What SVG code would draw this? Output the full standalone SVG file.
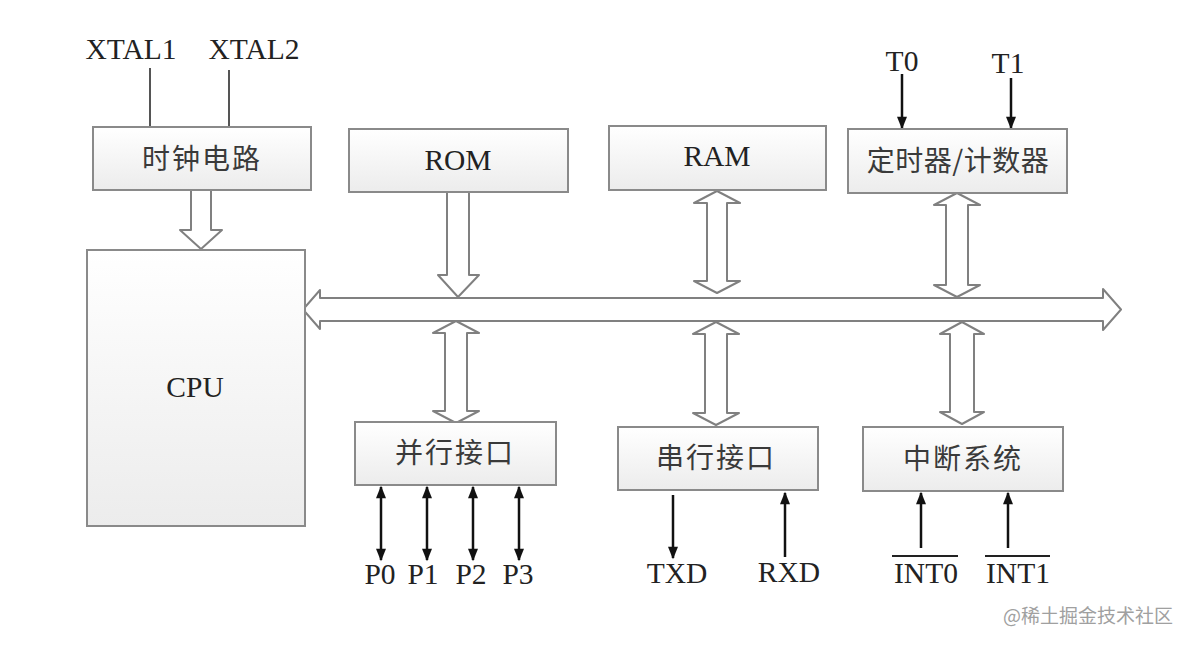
<svg xmlns="http://www.w3.org/2000/svg" width="1194" height="646" viewBox="0 0 1194 646">
<defs>
<linearGradient id="g" x1="0" y1="0" x2="0" y2="1">
<stop offset="0" stop-color="#ffffff"/>
<stop offset="1" stop-color="#ececec"/>
</linearGradient>
<marker id="ah" viewBox="0 0 10 10" refX="9" refY="5" markerWidth="5.5" markerHeight="5" orient="auto-start-reverse" markerUnits="strokeWidth">
<path d="M0,1 L10,5 L0,9 Z" fill="#111"/>
</marker>
<style>
.box{fill:url(#g);stroke:#8a8a8a;stroke-width:2}
.cn{font-family:"Noto Sans CJK SC",sans-serif;font-size:28px;fill:#3a3a3a;text-anchor:middle;letter-spacing:2px}
.en{font-family:"Liberation Serif",serif;font-size:29.5px;fill:#222;text-anchor:middle}
.blk{fill:#fff;stroke:#808080;stroke-width:2;stroke-linejoin:round}
.thin{stroke:#555;stroke-width:2;fill:none}
.sig{stroke:#111;stroke-width:2.5;fill:none}
</style>
</defs>
<rect width="1194" height="646" fill="#fff"/>

<g id="connectors">
<line class="thin" x1="150" y1="68" x2="150" y2="127"/>
<line class="thin" x1="229" y1="70" x2="229" y2="127"/>
<path class="blk" d="M191,190 L211,190 L211,230 L222,230 L201,249 L180,230 L191,230 Z"/>
<path class="blk" d="M447,192 L469,192 L469,275 L479,275 L458,297 L438,275 L447,275 Z"/>
<path class="blk" d="M303,309.5 L320,290 L320,298 L1103,298 L1103,289 L1121,309.5 L1103,330 L1103,321 L320,321 L320,329 Z"/>
<path class="blk" d="M717,191 L740,203 L727,203 L727,281 L740,281 L717,293 L694,281 L707,281 L707,203 L694,203 Z"/>
<path class="blk" d="M957,193 L980,205 L968,205 L968,285 L980,285 L957,297 L934,285 L946,285 L946,205 L934,205 Z"/>
<path class="blk" d="M456,321 L479,333 L467,333 L467,411 L479,411 L456,423 L433,411 L445,411 L445,333 L433,333 Z"/>
<path class="blk" d="M716,322 L739,334 L727,334 L727,413 L739,413 L716,425 L693,413 L705,413 L705,334 L693,334 Z"/>
<path class="blk" d="M962,322 L984,334 L974,334 L974,412 L984,412 L962,424 L940,412 L950,412 L950,334 L940,334 Z"/>
<line class="sig" x1="902" y1="74" x2="902" y2="128" marker-end="url(#ah)"/>
<line class="sig" x1="1011" y1="78" x2="1011" y2="128" marker-end="url(#ah)"/>
<line class="sig" x1="381" y1="487" x2="381" y2="560" marker-start="url(#ah)" marker-end="url(#ah)"/>
<line class="sig" x1="427" y1="487" x2="427" y2="560" marker-start="url(#ah)" marker-end="url(#ah)"/>
<line class="sig" x1="473" y1="487" x2="473" y2="560" marker-start="url(#ah)" marker-end="url(#ah)"/>
<line class="sig" x1="519" y1="487" x2="519" y2="560" marker-start="url(#ah)" marker-end="url(#ah)"/>
<line class="sig" x1="673" y1="495" x2="673" y2="558" marker-end="url(#ah)"/>
<line class="sig" x1="785" y1="557" x2="785" y2="493" marker-end="url(#ah)"/>
<line class="sig" x1="921" y1="548" x2="921" y2="493" marker-end="url(#ah)"/>
<line class="sig" x1="1008" y1="548" x2="1008" y2="493" marker-end="url(#ah)"/>
</g>

<g id="xtal">
<text class="en" x="131" y="59">XTAL1</text>
<text class="en" x="254" y="59">XTAL2</text>
</g>
<g id="clock">
<rect class="box" x="93" y="127" width="218" height="63"/>
<text class="cn" x="202" y="169">时钟电路</text>
</g>
<g id="cpu">
<rect class="box" x="87" y="250" width="218" height="276"/>
<text class="en" x="195" y="397">CPU</text>
</g>
<g id="rom">
<rect class="box" x="349" y="129" width="219" height="63"/>
<text class="en" x="458" y="170">ROM</text>
</g>
<g id="ram">
<rect class="box" x="609" y="126" width="217" height="64"/>
<text class="en" x="717" y="166">RAM</text>
</g>
<g id="timer">
<rect class="box" x="848" y="129" width="219" height="64"/>
<text class="cn" x="958" y="171" style="letter-spacing:0.5px">定时器/计数器</text>
<text class="en" x="902" y="71">T0</text>
<text class="en" x="1008" y="73">T1</text>
</g>
<g id="parallel">
<rect class="box" x="355" y="422" width="201" height="63"/>
<text class="cn" x="455" y="463">并行接口</text>
<text class="en" x="380" y="584">P0</text>
<text class="en" x="423" y="584">P1</text>
<text class="en" x="471" y="584">P2</text>
<text class="en" x="518" y="584">P3</text>
</g>
<g id="serial">
<rect class="box" x="618" y="427" width="200" height="63"/>
<text class="cn" x="716" y="468">串行接口</text>
<text class="en" x="677" y="583">TXD</text>
<text class="en" x="789" y="582">RXD</text>
</g>
<g id="interrupt">
<rect class="box" x="863" y="427" width="200" height="64"/>
<text class="cn" x="963" y="469">中断系统</text>
<text class="en" x="926" y="583">INT0</text>
<text class="en" x="1018" y="583">INT1</text>
<line x1="892" y1="556" x2="958" y2="556" stroke="#222" stroke-width="2"/>
<line x1="985" y1="556" x2="1050" y2="556" stroke="#222" stroke-width="2"/>
</g>
<text x="1173" y="623" text-anchor="end" font-family="Noto Sans CJK SC, sans-serif" font-size="19" fill="#a0a0a0">@稀土掘金技术社区</text>
</svg>
